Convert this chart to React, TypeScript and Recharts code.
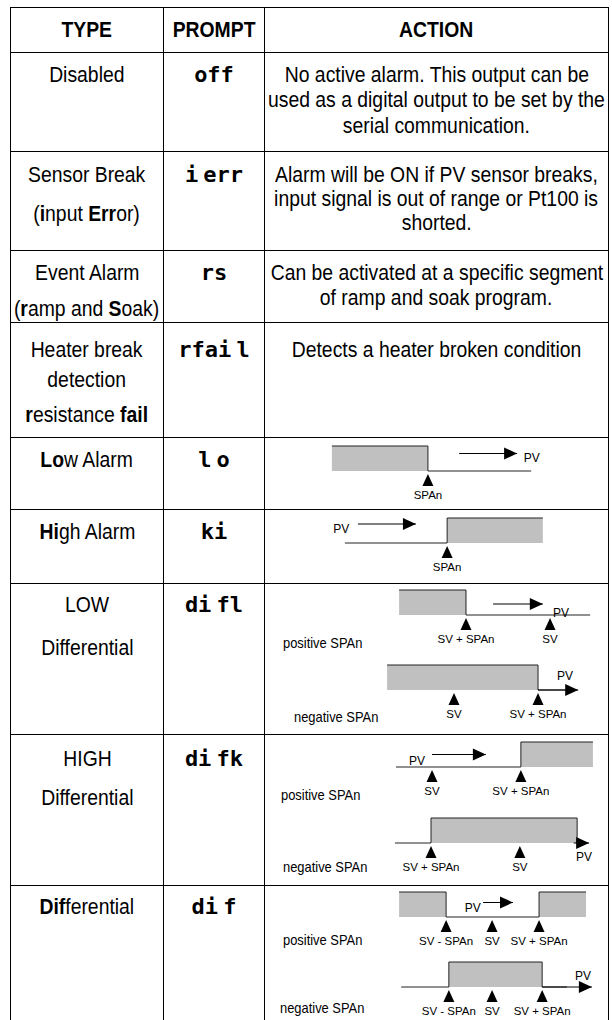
import React from 'react';
import { ComposedChart, Area, Line, Scatter, XAxis, YAxis } from 'recharts';

const SANS = "'Liberation Sans', Arial, sans-serif";
const MONO = "'DejaVu Sans Mono', monospace";

// table text
const headers = ['TYPE', 'PROMPT', 'ACTION'];
const types = [
  ['Disabled'],
  ['Sensor Break', '(**i**nput **Err**or)'],
  ['Event Alarm', '(**r**amp and **S**oak)'],
  ['Heater break', 'detection', '**r**esistance **fail**'],
  ['**Lo**w Alarm'],
  ['**Hi**gh Alarm'],
  ['LOW', 'Differential'],
  ['HIGH', 'Differential'],
  ['**Dif**ferential'],
];
const prompts = ['off', 'i err', 'rs', 'rfai l', 'l o', 'ki', 'di fl', 'di fk', 'di f'];
const actions = [
  ['No active alarm. This output can be', 'used as a digital output to be set by the', 'serial communication.'],
  ['Alarm will be ON if PV sensor breaks,', 'input signal is out of range or Pt100 is', 'shorted.'],
  ['Can be activated at a specific segment', 'of ramp and soak program.'],
  ['Detects a heater broken condition'],
];

// alarm diagrams: pv = process value (0-100 across the cell), out = alarm output level
const loAlarmSteps = [{ pv: 19.5, out: 1 }, { pv: 47.5, out: 0 }, { pv: 77.6, out: 0 }];
const loAlarmMarks = [{ pv: 47.5, out: 0, label: 'SPAn' }];
const loAlarmArrow = [{ pv: 56.6, out: 0.7 }, { pv: 73.5, out: 0.7 }];
const loAlarmNotes = [{ pv: 77.8, out: 0.55, text: 'PV' }];

const hiAlarmSteps = [{ pv: 23.3, out: 0 }, { pv: 53.1, out: 1 }, { pv: 81.0, out: 1 }];
const hiAlarmMarks = [{ pv: 53.1, out: 0, label: 'SPAn' }];
const hiAlarmArrow = [{ pv: 27.1, out: 0.76 }, { pv: 44.0, out: 0.76 }];
const hiAlarmNotes = [{ pv: 22.2, out: 0.6, text: 'PV' }];

const loDiffPosSteps = [{ pv: 39.1, out: 1 }, { pv: 58.6, out: 0 }, { pv: 94.8, out: 0 }];
const loDiffPosMarks = [{ pv: 58.6, out: 0, label: 'SV + SPAn' }, { pv: 83.1, out: 0, label: 'SV' }];
const loDiffPosArrow = [{ pv: 66.5, out: 0.44 }, { pv: 81.0, out: 0.44 }];
const loDiffPosNotes = [{ pv: 86.3, out: 0.12, text: 'PV' }];

const loDiffNegSteps = [{ pv: 35.6, out: 1 }, { pv: 79.6, out: 0 }, { pv: 88, out: 0 }];
const loDiffNegMarks = [{ pv: 55.1, out: 0, label: 'SV' }, { pv: 79.6, out: 0, label: 'SV + SPAn' }];
const loDiffNegArrow = [{ pv: 79.6, out: 0 }, { pv: 91.3, out: 0 }];
const loDiffNegNotes = [{ pv: 87.5, out: 0.6, text: 'PV' }];

const hiDiffPosSteps = [{ pv: 38.2, out: 0 }, { pv: 74.6, out: 1 }, { pv: 95.6, out: 1 }];
const hiDiffPosMarks = [{ pv: 48.7, out: 0, label: 'SV' }, { pv: 74.6, out: 0, label: 'SV + SPAn' }];
const hiDiffPosArrow = [{ pv: 48.7, out: 0.5 }, { pv: 64.4, out: 0.5 }];
const hiDiffPosNotes = [{ pv: 44.3, out: 0.28, text: 'PV' }];

const hiDiffNegSteps = [{ pv: 37.9, out: 0 }, { pv: 48.4, out: 1 }, { pv: 91.0, out: 0 }, { pv: 92, out: 0 }];
const hiDiffNegMarks = [{ pv: 48.4, out: 0, label: 'SV + SPAn' }, { pv: 74.3, out: 0, label: 'SV' }];
const hiDiffNegArrow = [{ pv: 90, out: 0 }, { pv: 94.5, out: 0 }];
const hiDiffNegNotes = [{ pv: 93.0, out: -0.52, text: 'PV' }];

const difPosSteps = [{ pv: 39.1, out: 1 }, { pv: 52.8, out: 0 }, { pv: 79.9, out: 1 }, { pv: 93.6, out: 1 }];
const difPosMarks = [
  { pv: 52.8, out: 0, label: 'SV - SPAn' },
  { pv: 66.2, out: 0, label: 'SV' },
  { pv: 79.9, out: 0, label: 'SV + SPAn' },
];
const difPosArrow = [{ pv: 63.6, out: 0.58 }, { pv: 72.3, out: 0.58 }];
const difPosNotes = [{ pv: 60.6, out: 0.37, text: 'PV' }];

const difNegSteps = [{ pv: 39.7, out: 0 }, { pv: 53.6, out: 1 }, { pv: 80.8, out: 0 }, { pv: 88, out: 0 }];
const difNegMarks = [
  { pv: 53.6, out: 0, label: 'SV - SPAn' },
  { pv: 66.2, out: 0, label: 'SV' },
  { pv: 80.8, out: 0, label: 'SV + SPAn' },
];
const difNegArrow = [{ pv: 80.8, out: 0 }, { pv: 95.3, out: 0 }];
const difNegNotes = [{ pv: 92.7, out: 0.48, text: 'PV' }];

// layout (px)
const rowHeights = [45, 99, 99, 72, 115, 72, 74, 151, 151, 150];
const typeBaselines = [[30], [31, 70], [30, 66], [35, 65, 100], [30], [30], [29, 72], [32, 71], [29]];
const actionBaselines = [[30, 55, 81], [31, 55, 79], [30, 55], [35]];

const diagrams = [
  { row: 5, top: 3, steps: loAlarmSteps, marks: loAlarmMarks, arrow: loAlarmArrow, notes: loAlarmNotes },
  { row: 6, top: 3, steps: hiAlarmSteps, marks: hiAlarmMarks, arrow: hiAlarmArrow, notes: hiAlarmNotes },
  { row: 7, top: 1, steps: loDiffPosSteps, marks: loDiffPosMarks, arrow: loDiffPosArrow, notes: loDiffPosNotes },
  { row: 7, top: 76, steps: loDiffNegSteps, marks: loDiffNegMarks, arrow: loDiffNegArrow, notes: loDiffNegNotes },
  { row: 8, top: 2, steps: hiDiffPosSteps, marks: hiDiffPosMarks, arrow: hiDiffPosArrow, notes: hiDiffPosNotes },
  { row: 8, top: 78, steps: hiDiffNegSteps, marks: hiDiffNegMarks, arrow: hiDiffNegArrow, notes: hiDiffNegNotes },
  { row: 9, top: 1, steps: difPosSteps, marks: difPosMarks, arrow: difPosArrow, notes: difPosNotes },
  { row: 9, top: 71, steps: difNegSteps, marks: difNegMarks, arrow: difNegArrow, notes: difNegNotes },
];

// "positive SPAn" / "negative SPAn" captions: [row, text, left, baseline]
const spanCaptions: [number, string, number, number][] = [
  [7, 'positive SPAn', 18, 64],
  [7, 'negative SPAn', 29, 138],
  [8, 'positive SPAn', 16, 65],
  [8, 'negative SPAn', 18, 137],
  [9, 'positive SPAn', 18, 59],
  [9, 'negative SPAn', 15, 127],
];

const rich = (s: string) =>
  s.split('**').map((part, i) => (i % 2 ? <b key={i}>{part}</b> : <span key={i}>{part}</span>));

// narrow sans = Liberation Sans squeezed horizontally
const Txt = ({ y, size, family, bold, left, sx, children }: any) => {
  const centered = left === undefined;
  return (
    <div
      style={{
        position: 'absolute',
        top: y - size * 0.846,
        left: centered ? -20 : left,
        right: centered ? -20 : undefined,
        textAlign: centered ? 'center' : 'left',
        fontSize: size,
        lineHeight: `${size}px`,
        fontFamily: family ?? SANS,
        fontWeight: bold ? 'bold' : 'normal',
        whiteSpace: 'nowrap',
        color: '#000',
      }}
    >
      <span
        style={{
          display: 'inline-block',
          transform: `scaleX(${sx ?? 1})`,
          transformOrigin: centered ? 'center' : 'left',
        }}
      >
        {children}
      </span>
    </div>
  );
};

const Marker = (props: any) => {
  const { cx, cy, payload } = props;
  return (
    <g>
      <polygon points={`${cx},${cy + 3} ${cx + 5.5},${cy + 15} ${cx - 5.5},${cy + 15}`} fill="#000" />
      <text x={cx} y={cy + 28} textAnchor="middle" fontSize={11.5} fontFamily={SANS} fill="#000">
        {payload.label}
      </text>
    </g>
  );
};

const Note = (props: any) => {
  const { cx, cy, payload } = props;
  return (
    <text x={cx} y={cy + 4.5} textAnchor="middle" fontSize={12} fontFamily={SANS} fill="#000">
      {payload.text}
    </text>
  );
};

const Diagram = ({ steps, marks, arrow, notes }: any) => {
  const head = (p: any) => {
    if (p.index !== arrow.length - 1) return <g key={`h${p.index}`} />;
    return (
      <polygon
        key={`h${p.index}`}
        points={`${p.cx - 13},${p.cy - 6} ${p.cx},${p.cy} ${p.cx - 13},${p.cy + 6}`}
        fill="#000"
      />
    );
  };
  return (
    <ComposedChart width={343} height={65} margin={{ top: 0, right: 0, bottom: 0, left: 0 }}>
      <XAxis type="number" dataKey="pv" domain={[0, 100]} hide allowDataOverflow />
      <YAxis type="number" domain={[-1.4, 1.2]} hide allowDataOverflow />
      <Area
        data={steps}
        dataKey="out"
        type="stepAfter"
        baseValue={0}
        fill="#c0c0c0"
        fillOpacity={1}
        stroke="#222"
        strokeWidth={1}
        dot={false}
        activeDot={false}
        isAnimationActive={false}
      />
      <Line
        data={arrow}
        dataKey="out"
        type="linear"
        stroke="#000"
        strokeWidth={1}
        dot={head}
        activeDot={false}
        isAnimationActive={false}
      />
      <Scatter data={marks} dataKey="out" shape={Marker} isAnimationActive={false} />
      <Scatter data={notes} dataKey="out" shape={Note} isAnimationActive={false} />
    </ComposedChart>
  );
};

const line = '1px solid #000';
const FS = 22;
const SX = 0.88;

export default function App() {
  return (
    <div
      style={{
        position: 'absolute',
        left: 0,
        top: 0,
        width: 612,
        height: 1020,
        overflow: 'hidden',
        background: '#fff',
      }}
    >
      <div
        style={{
          position: 'absolute',
          left: 10,
          top: 7,
          width: 599,
          boxSizing: 'border-box',
          borderTop: line,
          borderLeft: line,
          borderRight: line,
        }}
      >
        {rowHeights.map((h, r) => {
          const isHeader = r === 0;
          const i = r - 1;
          return (
            <div
              key={r}
              style={{
                display: 'flex',
                height: h,
                boxSizing: 'border-box',
                borderBottom: r < rowHeights.length - 1 ? line : 'none',
              }}
            >
              <div style={{ position: 'relative', width: 153, boxSizing: 'border-box', borderRight: line }}>
                {isHeader ? (
                  <Txt y={30} size={FS} sx={SX} bold>
                    {headers[0]}
                  </Txt>
                ) : (
                  types[i].map((t, k) => (
                    <Txt key={k} y={typeBaselines[i][k]} size={FS} sx={SX}>
                      {rich(t)}
                    </Txt>
                  ))
                )}
              </div>
              <div style={{ position: 'relative', width: 101, boxSizing: 'border-box', borderRight: line }}>
                {isHeader ? (
                  <Txt y={30} size={FS} sx={SX} bold>
                    {headers[1]}
                  </Txt>
                ) : (
                  <Txt y={typeBaselines[i][0]} size={22} family={MONO} bold>
                    <span style={{ wordSpacing: -8 }}>{prompts[i]}</span>
                  </Txt>
                )}
              </div>
              <div style={{ position: 'relative', flex: 1 }}>
                {isHeader ? (
                  <Txt y={30} size={FS} sx={SX} bold>
                    {headers[2]}
                  </Txt>
                ) : (
                  <>
                    {(actions[i] || []).map((t, k) => (
                      <Txt key={k} y={actionBaselines[i][k]} size={FS} sx={SX}>
                        {t}
                      </Txt>
                    ))}
                    {spanCaptions
                      .filter((c) => c[0] === r)
                      .map((c, k) => (
                        <Txt key={`c${k}`} y={c[3]} left={c[2]} size={15} sx={0.86}>
                          {c[1]}
                        </Txt>
                      ))}
                    {diagrams
                      .filter((d) => d.row === r)
                      .map((d, k) => (
                        <div key={`d${k}`} style={{ position: 'absolute', left: 0, top: d.top }}>
                          <Diagram {...d} />
                        </div>
                      ))}
                  </>
                )}
              </div>
            </div>
          );
        })}
      </div>
    </div>
  );
}
